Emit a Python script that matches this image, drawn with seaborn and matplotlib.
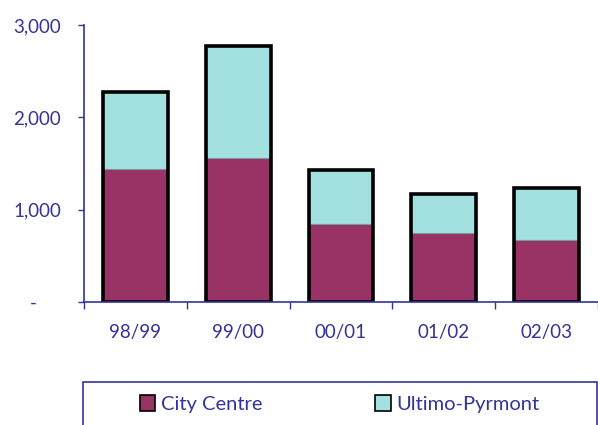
import matplotlib
matplotlib.use("Agg")
import matplotlib.pyplot as plt
import matplotlib.patches as mpatches
from matplotlib.ticker import FuncFormatter, FixedLocator
import seaborn as sns
import pandas as pd

# values
years = ['98/99', '99/00', '00/01', '01/02', '02/03']
city_centre = [1440, 1560, 840, 750, 670]
ultimo_pyrmont = [830, 1210, 590, 415, 560]

totals = [c + u for c, u in zip(city_centre, ultimo_pyrmont)]
df = pd.DataFrame({'year': years, 'city': city_centre, 'total': totals})

navy = '#333399'
maroon = '#993366'
cyan = '#A3E0E0'

sns.set_style('white')
plt.rcParams['font.family'] = ['Lato', 'DejaVu Sans']

fig = plt.figure(figsize=(5.98, 4.25), dpi=100)
ax = fig.add_axes([84 / 598, 1 - 302 / 425, 514 / 598, 277 / 425])

w = 0.63
sns.barplot(data=df, x='year', y='total', color=cyan, width=w, linewidth=0,
            saturation=1, ax=ax)
sns.barplot(data=df, x='year', y='city', color=maroon, width=w, linewidth=0.8,
            edgecolor='#7a9a9a', saturation=1, ax=ax)
# black outline around each whole column
sns.barplot(data=df, x='year', y='total', facecolor='none', edgecolor='black',
            width=w, linewidth=2.6, ax=ax)

ax.set_xlim(-0.5, 4.5)
ax.set_ylim(0, 3000)
ax.set_yticks([0, 1000, 2000, 3000])
ax.yaxis.set_major_formatter(FuncFormatter(lambda v, p: '-     ' if v == 0 else f'{int(v):,}'))
ax.xaxis.set_minor_locator(FixedLocator([-0.5, 0.5, 1.5, 2.5, 3.5, 4.5]))
ax.set_xlabel('')
ax.set_ylabel('')

for s in ['top', 'right']:
    ax.spines[s].set_visible(False)
for s in ['left', 'bottom']:
    ax.spines[s].set_color(navy)
    ax.spines[s].set_linewidth(1.2)
    ax.spines[s].set_zorder(5)

ax.tick_params(axis='y', which='major', direction='out', length=4.5, width=1,
               color=navy, labelcolor=navy, labelsize=13.5, pad=12, left=True)
ax.tick_params(axis='x', which='major', length=0, labelcolor=navy,
               labelsize=13.5, pad=16)
ax.tick_params(axis='x', which='minor', direction='out', length=5, width=1,
               color=navy, bottom=True)

# legend box along the bottom
fig.patches.append(mpatches.Rectangle((83 / 598, -0.05), 514 / 598, 0.05 + 43 / 425,
                                      transform=fig.transFigure, fill=False,
                                      edgecolor=navy, linewidth=1.2))
handles = [mpatches.Patch(facecolor=maroon, edgecolor='black', linewidth=1.2),
           mpatches.Patch(facecolor=cyan, edgecolor='black', linewidth=1.2)]
fig.legend(handles, ['City Centre', 'Ultimo-Pyrmont'], ncol=2, frameon=False,
           loc='center left', bbox_to_anchor=(130 / 598, 1 - 404 / 425),
           fontsize=14.5, labelcolor=navy, handlelength=0.75, handleheight=0.8,
           handletextpad=0.3, columnspacing=5.6, borderpad=0)

fig.savefig('out.png', dpi=100)
